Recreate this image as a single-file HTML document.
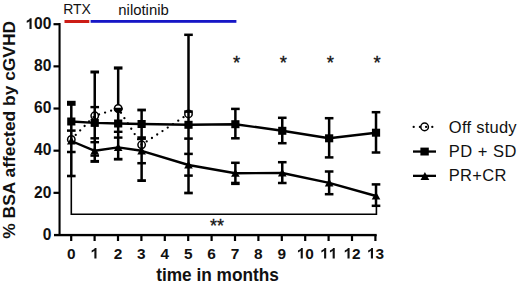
<!DOCTYPE html><html><head><meta charset="utf-8"><style>html,body{margin:0;padding:0;background:#fff;}svg{display:block;}text{font-family:"Liberation Sans",sans-serif;}</style></head><body>
<svg width="520" height="288" viewBox="0 0 520 288">
<rect width="520" height="288" fill="#fff"/>
<text x="63.2" y="14.4" font-size="14" fill="#111">RTX</text>
<text x="118.3" y="14.9" font-size="14.9" fill="#111">nilotinib</text>
<rect x="64.5" y="20" width="24.8" height="3" fill="#cc1c16"/>
<rect x="90.6" y="20" width="145.8" height="2.8" fill="#1616c6"/>
<rect x="58.5" y="23" width="2.1" height="213" fill="#000"/>
<rect x="54" y="233.9" width="322.7" height="2.35" fill="#000"/>
<text x="42.724" y="239.700" font-size="15.6" font-weight="bold" fill="#111">0</text>
<rect x="53.5" y="191.74" width="6" height="2.2" fill="#000"/>
<text x="34.048" y="197.540" font-size="15.6" font-weight="bold" fill="#111">2</text><text x="42.724" y="197.540" font-size="15.6" font-weight="bold" fill="#111">0</text>
<rect x="53.5" y="149.58" width="6" height="2.2" fill="#000"/>
<text x="34.048" y="155.380" font-size="15.6" font-weight="bold" fill="#111">4</text><text x="42.724" y="155.380" font-size="15.6" font-weight="bold" fill="#111">0</text>
<rect x="53.5" y="107.42" width="6" height="2.2" fill="#000"/>
<text x="34.048" y="113.220" font-size="15.6" font-weight="bold" fill="#111">6</text><text x="42.724" y="113.220" font-size="15.6" font-weight="bold" fill="#111">0</text>
<rect x="53.5" y="65.26" width="6" height="2.2" fill="#000"/>
<text x="34.048" y="71.060" font-size="15.6" font-weight="bold" fill="#111">8</text><text x="42.724" y="71.060" font-size="15.6" font-weight="bold" fill="#111">0</text>
<rect x="53.5" y="23.10" width="6" height="2.2" fill="#000"/>
<path transform="translate(25.372,28.900) scale(0.00762,-0.00762)" d="M820 0H539V1018Q385 879 176 813V1058Q286 1093 415 1189Q544 1285 592 1409H820Z" fill="#111"/><text x="34.048" y="28.900" font-size="15.6" font-weight="bold" fill="#111">0</text><text x="42.724" y="28.900" font-size="15.6" font-weight="bold" fill="#111">0</text>
<rect x="70.10" y="235" width="2.2" height="6.0" fill="#000"/>
<text x="66.918" y="258.500" font-size="15.4" font-weight="bold" fill="#111">0</text>
<rect x="93.50" y="235" width="2.2" height="6.0" fill="#000"/>
<path transform="translate(90.318,258.500) scale(0.00752,-0.00752)" d="M820 0H539V1018Q385 879 176 813V1058Q286 1093 415 1189Q544 1285 592 1409H820Z" fill="#111"/>
<rect x="116.90" y="235" width="2.2" height="6.0" fill="#000"/>
<text x="113.718" y="258.500" font-size="15.4" font-weight="bold" fill="#111">2</text>
<rect x="140.30" y="235" width="2.2" height="6.0" fill="#000"/>
<text x="137.118" y="258.500" font-size="15.4" font-weight="bold" fill="#111">3</text>
<rect x="163.70" y="235" width="2.2" height="6.0" fill="#000"/>
<text x="160.518" y="258.500" font-size="15.4" font-weight="bold" fill="#111">4</text>
<rect x="187.10" y="235" width="2.2" height="6.0" fill="#000"/>
<text x="183.918" y="258.500" font-size="15.4" font-weight="bold" fill="#111">5</text>
<rect x="210.50" y="235" width="2.2" height="6.0" fill="#000"/>
<text x="207.318" y="258.500" font-size="15.4" font-weight="bold" fill="#111">6</text>
<rect x="233.90" y="235" width="2.2" height="6.0" fill="#000"/>
<text x="230.718" y="258.500" font-size="15.4" font-weight="bold" fill="#111">7</text>
<rect x="257.30" y="235" width="2.2" height="6.0" fill="#000"/>
<text x="254.118" y="258.500" font-size="15.4" font-weight="bold" fill="#111">8</text>
<rect x="280.70" y="235" width="2.2" height="6.0" fill="#000"/>
<text x="277.518" y="258.500" font-size="15.4" font-weight="bold" fill="#111">9</text>
<rect x="304.10" y="235" width="2.2" height="6.0" fill="#000"/>
<path transform="translate(296.635,258.500) scale(0.00752,-0.00752)" d="M820 0H539V1018Q385 879 176 813V1058Q286 1093 415 1189Q544 1285 592 1409H820Z" fill="#111"/><text x="305.200" y="258.500" font-size="15.4" font-weight="bold" fill="#111">0</text>
<rect x="327.50" y="235" width="2.2" height="6.0" fill="#000"/>
<path transform="translate(320.035,258.500) scale(0.00752,-0.00752)" d="M820 0H539V1018Q385 879 176 813V1058Q286 1093 415 1189Q544 1285 592 1409H820Z" fill="#111"/><path transform="translate(328.600,258.500) scale(0.00752,-0.00752)" d="M820 0H539V1018Q385 879 176 813V1058Q286 1093 415 1189Q544 1285 592 1409H820Z" fill="#111"/>
<rect x="350.90" y="235" width="2.2" height="6.0" fill="#000"/>
<path transform="translate(343.435,258.500) scale(0.00752,-0.00752)" d="M820 0H539V1018Q385 879 176 813V1058Q286 1093 415 1189Q544 1285 592 1409H820Z" fill="#111"/><text x="352.000" y="258.500" font-size="15.4" font-weight="bold" fill="#111">2</text>
<rect x="374.30" y="235" width="2.2" height="6.0" fill="#000"/>
<path transform="translate(366.835,258.500) scale(0.00752,-0.00752)" d="M820 0H539V1018Q385 879 176 813V1058Q286 1093 415 1189Q544 1285 592 1409H820Z" fill="#111"/><text x="375.400" y="258.500" font-size="15.4" font-weight="bold" fill="#111">3</text>
<text x="156.2" y="280.8" font-size="17.8" font-weight="bold" textLength="122.7" lengthAdjust="spacingAndGlyphs" fill="#111">time in months</text>
<text transform="translate(15.4,129.8) rotate(-90)" x="0" y="0" font-size="17.4" font-weight="bold" text-anchor="middle" fill="#111">% BSA affected by cGVHD</text>
<path d="M71.30 176 V214.3 H376.42 V205" fill="none" stroke="#000" stroke-width="1.6"/>
<text x="216.9" y="232.0" font-size="18" text-anchor="middle" fill="#111" stroke="#111" stroke-width="0.3">**</text>
<text x="236.48" y="69.0" font-size="18.5" text-anchor="middle" fill="#111" stroke="#111" stroke-width="0.3">*</text>
<text x="283.36" y="69.0" font-size="18.5" text-anchor="middle" fill="#111" stroke="#111" stroke-width="0.3">*</text>
<text x="330.24" y="69.0" font-size="18.5" text-anchor="middle" fill="#111" stroke="#111" stroke-width="0.3">*</text>
<text x="377.12" y="69.0" font-size="18.5" text-anchor="middle" fill="#111" stroke="#111" stroke-width="0.3">*</text>
<path d="M71.30 139.40 L94.74 115.80 L118.18 108.50 L141.62 144.80 L188.50 113.90" fill="none" stroke="#000" stroke-width="2.3" stroke-linecap="round" stroke-dasharray="0 6.3"/>
<rect x="70.05" y="101.00" width="2.5" height="75.00" fill="#000"/>
<rect x="93.49" y="72.00" width="2.5" height="89.40" fill="#000"/>
<rect x="116.93" y="68.00" width="2.5" height="91.20" fill="#000"/>
<rect x="140.37" y="110.00" width="2.5" height="70.60" fill="#000"/>
<rect x="187.25" y="34.80" width="2.5" height="158.20" fill="#000"/>
<rect x="234.13" y="108.90" width="2.5" height="29.40" fill="#000"/>
<rect x="234.13" y="162.80" width="2.5" height="20.80" fill="#000"/>
<rect x="281.01" y="117.80" width="2.5" height="25.40" fill="#000"/>
<rect x="281.01" y="162.20" width="2.5" height="20.80" fill="#000"/>
<rect x="327.89" y="118.20" width="2.5" height="39.20" fill="#000"/>
<rect x="327.89" y="171.50" width="2.5" height="22.70" fill="#000"/>
<rect x="374.77" y="112.20" width="2.5" height="40.30" fill="#000"/>
<rect x="374.77" y="184.40" width="2.5" height="21.40" fill="#000"/>
<rect x="67.00" y="100.80" width="8.6" height="5.00" fill="#000"/>
<rect x="67.00" y="129.35" width="8.6" height="2.50" fill="#000"/>
<rect x="67.00" y="150.75" width="8.6" height="2.50" fill="#000"/>
<rect x="67.00" y="174.70" width="8.6" height="2.60" fill="#000"/>
<rect x="90.44" y="70.50" width="8.6" height="3.00" fill="#000"/>
<rect x="90.44" y="105.90" width="8.6" height="2.40" fill="#000"/>
<rect x="90.44" y="137.10" width="8.6" height="2.40" fill="#000"/>
<rect x="90.44" y="141.00" width="8.6" height="2.40" fill="#000"/>
<rect x="90.44" y="154.40" width="8.6" height="2.40" fill="#000"/>
<rect x="90.44" y="159.90" width="8.6" height="3.00" fill="#000"/>
<rect x="113.88" y="66.40" width="8.6" height="3.20" fill="#000"/>
<rect x="113.88" y="107.70" width="8.6" height="2.40" fill="#000"/>
<rect x="113.88" y="130.60" width="8.6" height="2.40" fill="#000"/>
<rect x="113.88" y="136.40" width="8.6" height="2.40" fill="#000"/>
<rect x="113.88" y="157.80" width="8.6" height="2.80" fill="#000"/>
<rect x="137.32" y="108.60" width="8.6" height="2.80" fill="#000"/>
<rect x="137.32" y="136.25" width="8.6" height="3.70" fill="#000"/>
<rect x="137.32" y="161.95" width="8.6" height="2.50" fill="#000"/>
<rect x="137.32" y="179.20" width="8.6" height="2.80" fill="#000"/>
<rect x="184.20" y="33.55" width="8.6" height="2.50" fill="#000"/>
<rect x="184.20" y="110.30" width="8.6" height="2.60" fill="#000"/>
<rect x="184.20" y="137.35" width="8.6" height="2.50" fill="#000"/>
<rect x="184.20" y="152.65" width="8.6" height="2.50" fill="#000"/>
<rect x="184.20" y="174.35" width="8.6" height="2.50" fill="#000"/>
<rect x="184.20" y="191.65" width="8.6" height="2.70" fill="#000"/>
<rect x="231.08" y="107.65" width="8.6" height="2.50" fill="#000"/>
<rect x="231.08" y="137.05" width="8.6" height="2.50" fill="#000"/>
<rect x="231.08" y="161.55" width="8.6" height="2.50" fill="#000"/>
<rect x="231.08" y="181.70" width="8.6" height="3.40" fill="#000"/>
<rect x="277.96" y="116.55" width="8.6" height="2.50" fill="#000"/>
<rect x="277.96" y="141.95" width="8.6" height="2.50" fill="#000"/>
<rect x="277.96" y="160.95" width="8.6" height="2.50" fill="#000"/>
<rect x="277.96" y="181.75" width="8.6" height="2.50" fill="#000"/>
<rect x="324.84" y="116.95" width="8.6" height="2.50" fill="#000"/>
<rect x="324.84" y="156.15" width="8.6" height="2.50" fill="#000"/>
<rect x="324.84" y="170.25" width="8.6" height="2.50" fill="#000"/>
<rect x="324.84" y="192.95" width="8.6" height="2.50" fill="#000"/>
<rect x="371.72" y="110.95" width="8.6" height="2.50" fill="#000"/>
<rect x="371.72" y="151.25" width="8.6" height="2.50" fill="#000"/>
<rect x="371.72" y="183.15" width="8.6" height="2.50" fill="#000"/>
<rect x="371.72" y="204.55" width="8.6" height="2.50" fill="#000"/>
<path d="M71.30 121.50 L94.74 122.90 L118.18 123.50 L141.62 124.00 L188.50 124.80 L235.38 124.20 L282.26 130.80 L329.14 138.30 L376.02 132.70" fill="none" stroke="#000" stroke-width="2.4" stroke-linejoin="round"/>
<path d="M71.30 141.00 L94.74 150.80 L118.18 147.40 L141.62 150.80 L188.50 165.00 L235.38 173.20 L282.26 173.00 L329.14 182.80 L376.02 196.00" fill="none" stroke="#000" stroke-width="2.4" stroke-linejoin="round"/>
<rect x="67.20" y="117.50" width="8.2" height="8.0" fill="#000"/>
<rect x="90.64" y="118.90" width="8.2" height="8.0" fill="#000"/>
<rect x="114.08" y="119.50" width="8.2" height="8.0" fill="#000"/>
<rect x="137.52" y="120.00" width="8.2" height="8.0" fill="#000"/>
<rect x="184.40" y="120.80" width="8.2" height="8.0" fill="#000"/>
<rect x="231.28" y="120.20" width="8.2" height="8.0" fill="#000"/>
<rect x="278.16" y="126.80" width="8.2" height="8.0" fill="#000"/>
<rect x="325.04" y="134.30" width="8.2" height="8.0" fill="#000"/>
<rect x="371.92" y="128.70" width="8.2" height="8.0" fill="#000"/>
<path d="M71.30 136.80 L75.60 144.60 L67.00 144.60 Z" fill="#000"/>
<path d="M94.74 146.60 L99.04 154.40 L90.44 154.40 Z" fill="#000"/>
<path d="M118.18 143.20 L122.48 151.00 L113.88 151.00 Z" fill="#000"/>
<path d="M141.62 146.60 L145.92 154.40 L137.32 154.40 Z" fill="#000"/>
<path d="M188.50 160.80 L192.80 168.60 L184.20 168.60 Z" fill="#000"/>
<path d="M235.38 169.00 L239.68 176.80 L231.08 176.80 Z" fill="#000"/>
<path d="M282.26 168.80 L286.56 176.60 L277.96 176.60 Z" fill="#000"/>
<path d="M329.14 178.60 L333.44 186.40 L324.84 186.40 Z" fill="#000"/>
<path d="M376.02 191.80 L380.32 199.60 L371.72 199.60 Z" fill="#000"/>
<circle cx="71.30" cy="139.40" r="3.7" fill="none" stroke="#000" stroke-width="1.5"/>
<circle cx="94.74" cy="115.80" r="3.7" fill="none" stroke="#000" stroke-width="1.5"/>
<circle cx="118.18" cy="108.50" r="3.7" fill="#fff" stroke="#000" stroke-width="1.5"/>
<circle cx="141.62" cy="144.80" r="3.7" fill="none" stroke="#000" stroke-width="1.5"/>
<circle cx="188.50" cy="113.90" r="3.7" fill="none" stroke="#000" stroke-width="1.5"/>
<clipPath id="c2"><rect x="100" y="107.8" width="40" height="10"/></clipPath>
<circle cx="118.18" cy="108.50" r="4.3" fill="#000" clip-path="url(#c2)"/>
<path d="M413.7 126.9 H433" fill="none" stroke="#000" stroke-width="2.3" stroke-linecap="round" stroke-dasharray="0 6.2"/>
<circle cx="424.6" cy="126.9" r="3.8" fill="none" stroke="#000" stroke-width="1.5"/>
<rect x="413" y="150.4" width="23" height="2.3" fill="#000"/>
<rect x="420.4" y="147.6" width="8.4" height="7.9" fill="#000"/>
<rect x="413" y="174.7" width="23" height="2.3" fill="#000"/>
<path d="M424.9 172 L429.3 180 L420.5 180 Z" fill="#000"/>
<text x="448.8" y="132.6" font-size="16.5" textLength="67.8" lengthAdjust="spacing" fill="#111">Off study</text>
<text x="448.8" y="156.8" font-size="16.5" textLength="67.6" lengthAdjust="spacing" fill="#111">PD + SD</text>
<text x="448.8" y="180.9" font-size="16.5" textLength="57.6" lengthAdjust="spacing" fill="#111">PR+CR</text>
</svg></body></html>
